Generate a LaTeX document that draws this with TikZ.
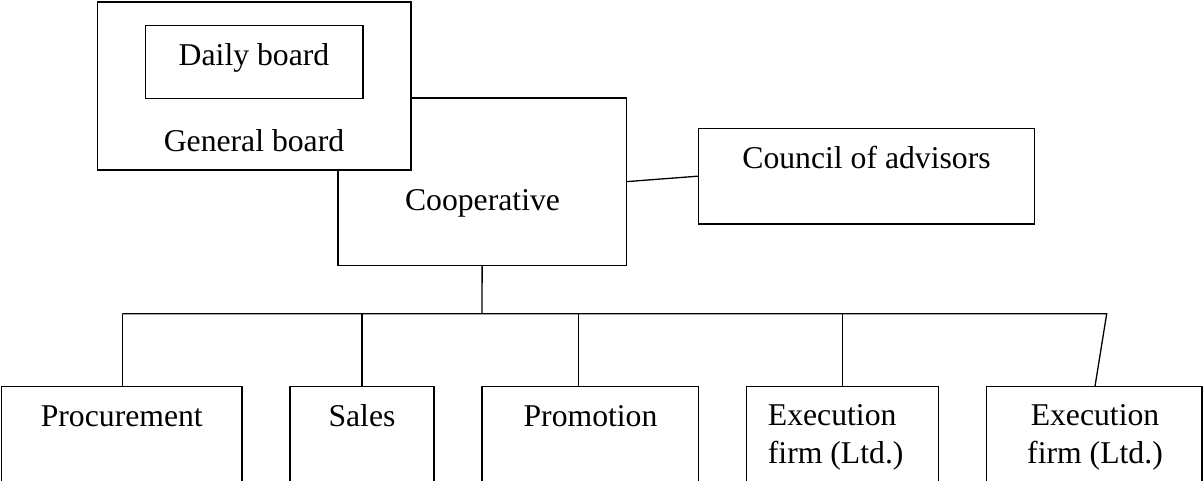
\documentclass[tikz,border=0pt]{standalone}
\usepackage{fontspec}
\setmainfont{Liberation Serif}
\begin{document}
\begin{tikzpicture}[x=1pt,y=-1pt,
  box/.style={draw, line width=1.3pt, fill=white, inner sep=0pt, outer sep=0pt, anchor=north west},
  lbl/.style={anchor=base, inner sep=0pt, font=\fontsize{31.7}{37.3}\selectfont},
  wire/.style={line width=1.3pt}]
\useasboundingbox (0,0) rectangle (1203,481);
\clip (0,0) rectangle (1203,481);

% upper part: cooperative sits behind the boards
\node[box, minimum width=288.3pt, minimum height=167.3pt] (coop) at (338,98) {};
\node[box, minimum width=313.7pt, minimum height=168pt] (general) at (97.3,2) {};
\node[box, minimum width=217.3pt, minimum height=73pt] (daily) at (145.7,25.3) {};
\node[box, minimum width=336pt, minimum height=95.7pt] (council) at (698.3,128.3) {};

\node[lbl] (tdaily) at (254,65.7) {Daily board};
\node[lbl] (tgeneral) at (254,151.7) {General board};
\node[lbl] (tcoop) at (482.5,211) {Cooperative};
\node[lbl] (tcouncil) at (866.5,168.3) {Council of advisors};

% departments, running off the lower edge
\node[box, minimum width=240.3pt, minimum height=200pt] (proc) at (1.7,386.3) {};
\node[box, minimum width=144pt, minimum height=200pt] (sales) at (290,386.3) {};
\node[box, minimum width=216.3pt, minimum height=200pt] (promo) at (482,386.3) {};
\node[box, minimum width=192pt, minimum height=200pt] (execa) at (746.7,386.3) {};
\node[box, minimum width=215.7pt, minimum height=200pt] (execb) at (986.3,386.3) {};

\node[lbl] (tproc) at (121.8,426) {Procurement};
\node[lbl] (tsales) at (362,426) {Sales};
\node[lbl] (tpromo) at (590.5,426) {Promotion};
% two-line labels: the base anchor sits on the last line
\node[lbl, anchor=base west, align=left] (texeca) at (767.7,463) {Execution\\firm (Ltd.)};
\node[lbl, align=center] (texecb) at (1095,463) {Execution\\firm (Ltd.)};

% connectors
\draw[wire] (coop.east) -- (council.west);
\coordinate (bus) at (482,313.7);
\coordinate (busend) at (1106.7,313.7);
\coordinate (topproc) at (122.3,386.3);
\coordinate (toppromo) at (578.3,386.3);
\coordinate (topexecb) at (1095,386.3);
\draw[wire] (coop.south) -- (bus);
\draw[wire] (topproc |- bus) -- (busend) -- (topexecb);
\draw[wire] (topproc) -- (topproc |- bus);
\draw[wire] (sales.north) -- (sales.north |- bus);
\draw[wire] (toppromo) -- (toppromo |- bus);
\draw[wire] (execa.north) -- (execa.north |- bus);
\end{tikzpicture}
\end{document}
